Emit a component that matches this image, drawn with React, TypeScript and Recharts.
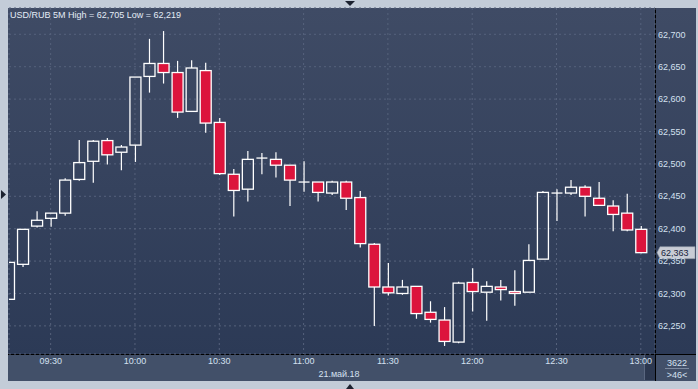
import React from 'react';
import { ComposedChart, Bar, XAxis, YAxis, CartesianGrid, ReferenceLine } from 'recharts';

const times = [
  '09:15', '09:20', '09:25', '09:30', '09:35', '09:40', '09:45', '09:50', '09:55', '10:00',
  '10:05', '10:10', '10:15', '10:20', '10:25', '10:30', '10:35', '10:40', '10:45', '10:50',
  '10:55', '11:00', '11:05', '11:10', '11:15', '11:20', '11:25', '11:30', '11:35', '11:40',
  '11:45', '11:50', '11:55', '12:00', '12:05', '12:10', '12:15', '12:20', '12:25', '12:30',
  '12:35', '12:40', '12:45', '12:50', '12:55', '13:00',
];
const opens = [
  62.291, 62.345, 62.404, 62.416, 62.424, 62.476, 62.504, 62.536, 62.518, 62.529,
  62.635, 62.655, 62.641, 62.581, 62.644, 62.564, 62.484, 62.461, 62.509, 62.507,
  62.498, 62.472, 62.472, 62.455, 62.472, 62.448, 62.376, 62.310, 62.300, 62.311,
  62.271, 62.259, 62.225, 62.317, 62.302, 62.310, 62.303, 62.302, 62.353, 62.455,
  62.455, 62.464, 62.447, 62.435, 62.424, 62.399,
];
const highs = [
  62.348, 62.399, 62.427, 62.424, 62.478, 62.537, 62.537, 62.540, 62.529, 62.634,
  62.693, 62.705, 62.659, 62.660, 62.656, 62.571, 62.492, 62.520, 62.517, 62.518,
  62.498, 62.504, 62.472, 62.474, 62.474, 62.458, 62.378, 62.347, 62.321, 62.311,
  62.288, 62.279, 62.318, 62.339, 62.319, 62.321, 62.336, 62.376, 62.458, 62.461,
  62.475, 62.467, 62.472, 62.444, 62.454, 62.404,
];
const lows = [
  62.291, 62.341, 62.402, 62.403, 62.420, 62.474, 62.471, 62.499, 62.490, 62.503,
  62.610, 62.624, 62.571, 62.581, 62.548, 62.483, 62.419, 62.442, 62.484, 62.479,
  62.435, 62.457, 62.442, 62.452, 62.429, 62.371, 62.250, 62.297, 62.298, 62.261,
  62.255, 62.219, 62.223, 62.272, 62.258, 62.289, 62.281, 62.302, 62.353, 62.412,
  62.452, 62.419, 62.436, 62.396, 62.396, 62.362,
];
const closes = [
  62.348, 62.399, 62.413, 62.424, 62.475, 62.502, 62.535, 62.514, 62.526, 62.634,
  62.655, 62.641, 62.580, 62.648, 62.563, 62.485, 62.459, 62.507, 62.509, 62.498,
  62.475, 62.472, 62.456, 62.472, 62.447, 62.377, 62.310, 62.301, 62.310, 62.269,
  62.260, 62.226, 62.316, 62.303, 62.311, 62.306, 62.300, 62.351, 62.456, 62.455,
  62.464, 62.450, 62.436, 62.422, 62.398, 62.363,
];
const priceTicks = [62.25, 62.3, 62.35, 62.4, 62.45, 62.5, 62.55, 62.6, 62.65, 62.7];
const timeTickIdx = [3, 9, 15, 21, 27, 33, 39, 45];
const lastPrice = 62.363;
const titleText = 'USD/RUB 5M High = 62,705 Low = 62,219';
const dateText = '21.май.18';
const countText = '3622';
const visibleText = '>46<';

const data = times.map((t, i) => ({
  idx: i,
  time: t,
  open: opens[i],
  high: highs[i],
  low: lows[i],
  close: closes[i],
}));

const FONT = '"Liberation Sans", Arial, sans-serif';
const TXT = '#d4e0f0';
const fmtPrice = (v: number) => v.toFixed(3).replace('.', ',');

const Candle = (props: any) => {
  const { x, y, width, height, payload } = props;
  if (x == null || y == null) return null;
  const top = Math.min(y, y + height);
  const h = Math.abs(height);
  const { open, close, high, low } = payload;
  const range = high - low;
  const yOf = (v: number) => (range === 0 ? top : top + ((high - v) / range) * h);
  const cx = x + width / 2;
  const yo = yOf(open);
  const yc = yOf(close);
  const bTop = Math.min(yo, yc);
  const bBot = Math.max(yo, yc);
  const bear = close < open;
  const doji = Math.abs(bBot - bTop) < 0.8;
  return (
    <g>
      {bTop > top + 0.3 && <line x1={cx} x2={cx} y1={top} y2={bTop} stroke="#ffffff" strokeWidth={1.2} />}
      {top + h > bBot + 0.3 && <line x1={cx} x2={cx} y1={bBot} y2={top + h} stroke="#ffffff" strokeWidth={1.2} />}
      {doji ? (
        <line x1={x} x2={x + width} y1={yo} y2={yo} stroke="#ffffff" strokeWidth={1.3} />
      ) : (
        <rect
          x={x}
          y={bTop}
          width={width}
          height={bBot - bTop}
          fill={bear ? '#dc143c' : 'none'}
          stroke="#ffffff"
          strokeWidth={1.3}
        />
      )}
    </g>
  );
};

const PriceTag = (props: any) => {
  const vb = props.viewBox || {};
  const x0 = (vb.x || 0) + (vb.width || 0);
  const yy = vb.y || 0;
  return (
    <g>
      <polygon
        points={`${x0 + 2},${yy} ${x0 + 5},${yy - 6} ${x0 + 40},${yy - 6} ${x0 + 40},${yy + 6} ${x0 + 5},${yy + 6}`}
        fill="#c8ccd5"
        stroke="#8a93a3"
        strokeWidth={0.6}
      />
      <text x={x0 + 6} y={yy + 3.5} fontSize={9} fontFamily={FONT} fill="#18243c">
        {fmtPrice(lastPrice)}
      </text>
    </g>
  );
};

export default function App() {
  return (
    <div style={{ position: 'absolute', left: 0, top: 0, width: 698, height: 389, background: '#c3ccd8', overflow: 'hidden' }}>
      {/* panel */}
      <div style={{ position: 'absolute', left: 8, top: 8, width: 688, height: 373, background: '#425069' }} />
      <div
        style={{
          position: 'absolute',
          left: 8,
          top: 8,
          width: 688,
          height: 346,
          background: 'linear-gradient(to bottom, #3f4b65, #2c3a56)',
        }}
      />
      <div style={{ position: 'absolute', left: 655, top: 8, width: 1, height: 373, background: '#000' }} />
      <div style={{ position: 'absolute', left: 8, top: 354, width: 688, height: 1, background: '#000' }} />
      <div style={{ position: 'absolute', left: 644, top: 355, width: 11, height: 25, background: '#2c3850', borderLeft: '1px solid #5a6780', boxSizing: 'border-box' }} />
      <div style={{ position: 'absolute', left: 0, top: 0 }}>
        <ComposedChart
          width={698}
          height={389}
          data={data}
          margin={{ top: 8, right: 2, bottom: 8, left: 9 }}
        >
          <CartesianGrid stroke="#56627c" strokeDasharray="2 3" />
          <XAxis
            dataKey="idx"
            type="number"
            domain={[0.035, 46.01]}
            allowDataOverflow
            ticks={timeTickIdx}
            tickFormatter={(v: number) => times[v]}
            height={27}
            axisLine={false}
            tickLine={false}
            tickSize={0}
            tickMargin={4}
            interval={0}
            tick={{ fill: TXT, fontSize: 9, fontFamily: FONT }}
          />
          <YAxis
            orientation="right"
            type="number"
            domain={[62.2066, 62.7406]}
            allowDataOverflow
            ticks={priceTicks}
            tickFormatter={fmtPrice}
            width={41}
            axisLine={false}
            tickLine={false}
            tickSize={0}
            tickMargin={3}
            interval={0}
            tick={{ fill: TXT, fontSize: 9, fontFamily: FONT, textAnchor: 'start' }}
          />
          <Bar
            dataKey={(d: any) => [d.low, d.high]}
            barSize={11}
            shape={<Candle />}
            isAnimationActive={false}
          />
          <ReferenceLine y={lastPrice} stroke="none" label={<PriceTag />} />
        </ComposedChart>
      </div>
      <svg width={698} height={389} style={{ position: 'absolute', left: 0, top: 0, pointerEvents: 'none' }}>
        <text x={10} y={18} fontSize={9} fontFamily={FONT} fill="#e4ecf6">{titleText}</text>
        <text x={339} y={377} fontSize={9} fontFamily={FONT} fill={TXT} textAnchor="middle">{dateText}</text>
        <text x={677} y={366} fontSize={9} fontFamily={FONT} fill={TXT} textAnchor="middle">{countText}</text>
        <line x1={665} x2={689} y1={368.5} y2={368.5} stroke="#7d8aa0" strokeWidth={1} />
        <text x={677} y={377.5} fontSize={9} fontFamily={FONT} fill={TXT} textAnchor="middle">{visibleText}</text>
        <polygon points="345,1 355,1 350,6" fill="#1c2230" />
        <polygon points="346,389 354,389 350,384" fill="#1c2230" />
        <polygon points="1,190 1,199 6,194.5" fill="#1c2230" />
      </svg>
    </div>
  );
}
